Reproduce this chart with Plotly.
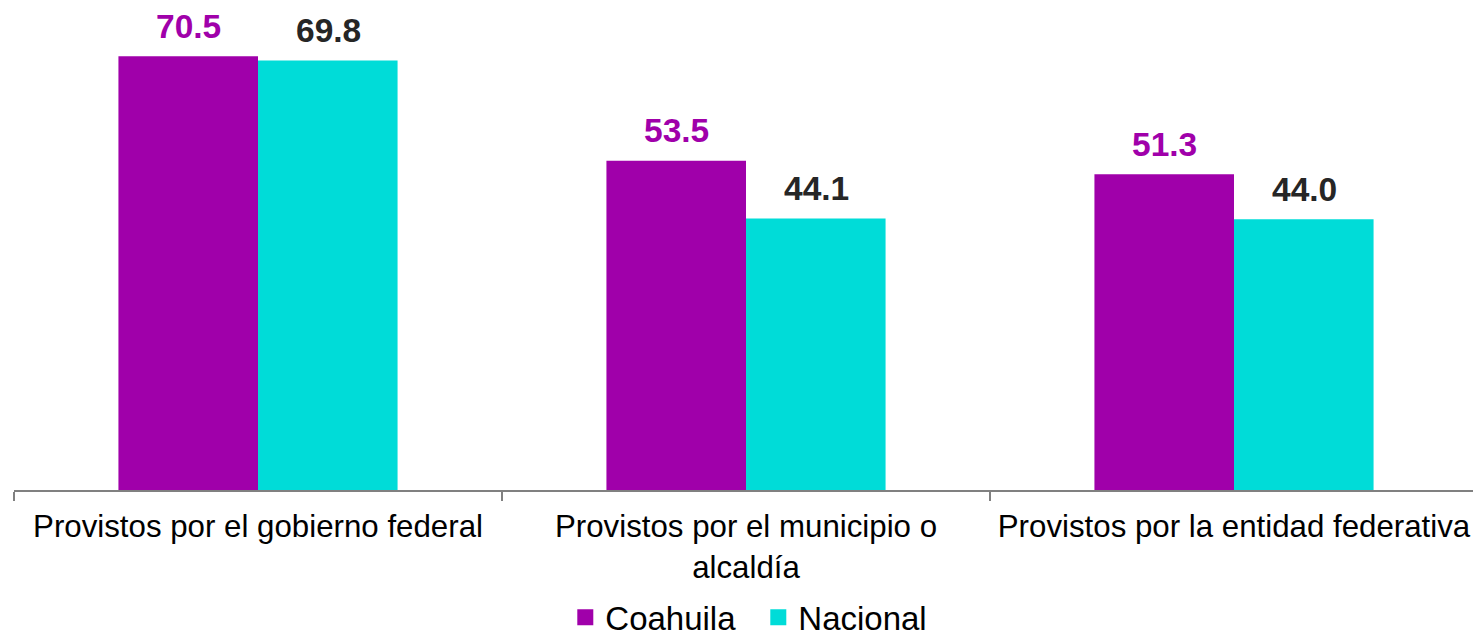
import plotly.graph_objects as go

categories = ["Provistos por el gobierno federal",
              "Provistos por el municipio o<br>alcaldía",
              "Provistos por la entidad federativa"]
coahuila = [70.5, 53.5, 51.3]
nacional = [69.8, 44.1, 44.0]
series_names = ["Coahuila", "Nacional"]

PURPLE = "#A000AA"
CYAN = "#00DCD8"
FONT = "Liberation Sans, Arial"

fig = go.Figure()
fig.add_trace(go.Bar(name=series_names[0], x=categories, y=coahuila, marker_color=PURPLE,
                     marker_line_width=0, showlegend=False))
fig.add_trace(go.Bar(name=series_names[1], x=categories, y=nacional, marker_color=CYAN,
                     marker_line_width=0, showlegend=False))
# legend entries with larger square symbols
for name, col in zip(series_names, [PURPLE, CYAN]):
    fig.add_trace(go.Scatter(name=name, x=[None], y=[None], mode="markers",
                             marker=dict(symbol="square", size=17, color=col), showlegend=True))

annotations = []
for cat, v in zip(categories, coahuila):
    annotations.append(dict(x=cat, y=v, xref="x", yref="y", text=f"{v:.1f}",
                            showarrow=False, yanchor="bottom", xshift=-70, yshift=9.5,
                            font=dict(family=FONT, size=33.5, color=PURPLE, weight="bold")))
for cat, v in zip(categories, nacional):
    annotations.append(dict(x=cat, y=v, xref="x", yref="y", text=f"{v:.1f}",
                            showarrow=False, yanchor="bottom", xshift=70, yshift=9.5,
                            font=dict(family=FONT, size=33.5, color="#262626", weight="bold")))

fig.update_layout(
    width=1473, height=629,
    margin=dict(l=6, r=3, t=2, b=147, autoexpand=False),
    plot_bgcolor="white", paper_bgcolor="white",
    barmode="group", bargap=0.428, bargroupgap=0,
    font=dict(family=FONT, size=31.25, color="#000000"),
    showlegend=True,
    legend=dict(orientation="h", x=0.5084, xanchor="center", yref="paper", y=-0.265, yanchor="middle",
                font=dict(size=33), traceorder="normal", itemsizing="trace",
                entrywidth=148, entrywidthmode="pixels"),
    annotations=annotations,
)
fig.update_xaxes(showline=True, linecolor="#808080", linewidth=1.5, ticks="outside",
                 tickson="boundaries", ticklen=9, tickcolor="#808080", tickwidth=1.5,
                 ticklabelstandoff=8,
                 tickfont=dict(size=31.25, color="#000000"), showgrid=False, automargin=False)
fig.update_yaxes(range=[0, 78], visible=False, showgrid=False, automargin=False)

fig.write_html("out.html")
